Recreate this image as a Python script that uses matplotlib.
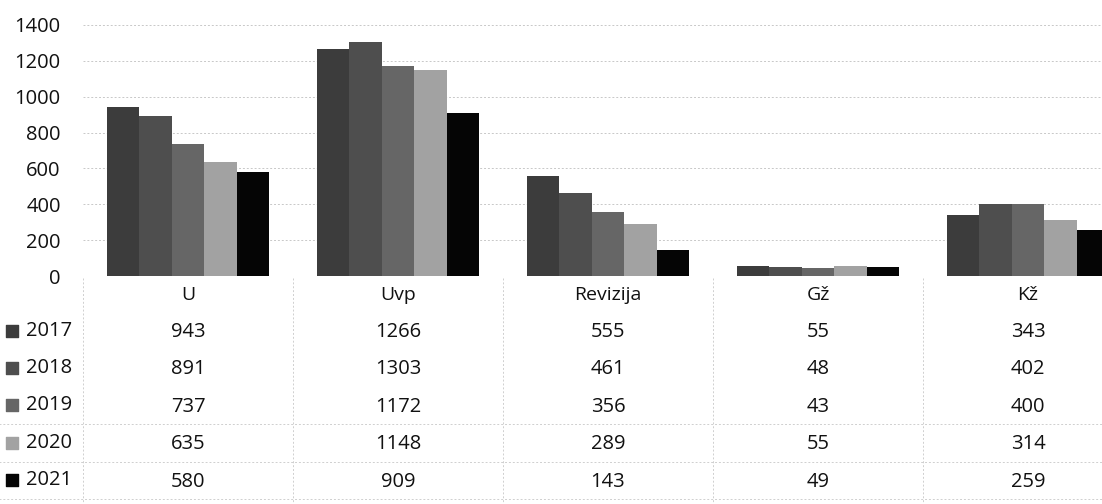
import numpy as np
import matplotlib
matplotlib.use("Agg")
import matplotlib.pyplot as plt

plt.rcParams['font.family'] = ['Open Sans', 'DejaVu Sans']

# data
kategorije = ['U', 'Uvp', 'Revizija', 'Gž', 'Kž']
godine = ['2017', '2018', '2019', '2020', '2021']
v2017 = [943, 1266, 555, 55, 343]
v2018 = [891, 1303, 461, 48, 402]
v2019 = [737, 1172, 356, 43, 400]
v2020 = [635, 1148, 289, 55, 314]
v2021 = [580, 909, 143, 49, 259]
serije = [v2017, v2018, v2019, v2020, v2021]
boje = ['#3c3c3c', '#4e4e4e', '#666666', '#a2a2a2', '#050505']
tekst = '#111111'

W, H = 1102, 504
fig = plt.figure(figsize=(W / 100, H / 100), dpi=100)
fig.patch.set_facecolor('white')

# grafikon sa stupcima
ax = fig.add_axes([83 / W, (H - 276) / H, 1050 / W, 251 / H])
x = np.arange(len(kategorije))
sirina = 0.154
for j, (vals, c) in enumerate(zip(serije, boje)):
    ax.bar(x + (j - 2) * sirina, vals, sirina, color=c, zorder=3)
ax.set_xlim(-0.5, len(kategorije) - 0.5)
ax.set_ylim(0, 1400)
ax.set_yticks(range(0, 1401, 200))
ax.set_xticks([])
ax.tick_params(axis='y', length=0, pad=16, labelsize=14.5, labelcolor=tekst)
for s in ax.spines.values():
    s.set_visible(False)
ax.grid(axis='y', color='#c8c8c8', linestyle=(0, (2, 2)), linewidth=0.7, zorder=0)

# tablica s podacima
ax2 = fig.add_axes([83 / W, 0, 1050 / W, 230 / H])
ax2.set_xlim(-0.5, len(kategorije) - 0.5)
ax2.set_ylim(5.627, -0.507)
ax2.axis('off')
for i, k in enumerate(kategorije):
    ax2.text(i, 0.05, k, ha='center', va='center', fontsize=14, color=tekst)
    for r, vals in enumerate(serije):
        ax2.text(i, r + 1.03, str(vals[i]), ha='center', va='center',
                 fontsize=14.5, color=tekst)
for r, (g, c) in enumerate(zip(godine, boje)):
    ax2.text(-0.77, r + 1, g, ha='left', va='center', fontsize=14.5,
             color=tekst, clip_on=False)
    ax2.scatter([-0.84], [r + 1], marker='s', s=70, color=c, clip_on=False)
for xv in np.arange(-0.5, len(kategorije), 1.0):
    ax2.plot([xv, xv], [-0.4, 5.63], color='#cfcfcf', linestyle=(0, (2, 2)),
             linewidth=0.7, clip_on=False)
for yv in [3.5, 4.5, 5.5]:
    ax2.plot([-0.9, 4.5], [yv, yv], color='#cfcfcf', linestyle=(0, (2, 2)),
             linewidth=0.7, clip_on=False)

fig.savefig('out.png', dpi=100, facecolor='white')
